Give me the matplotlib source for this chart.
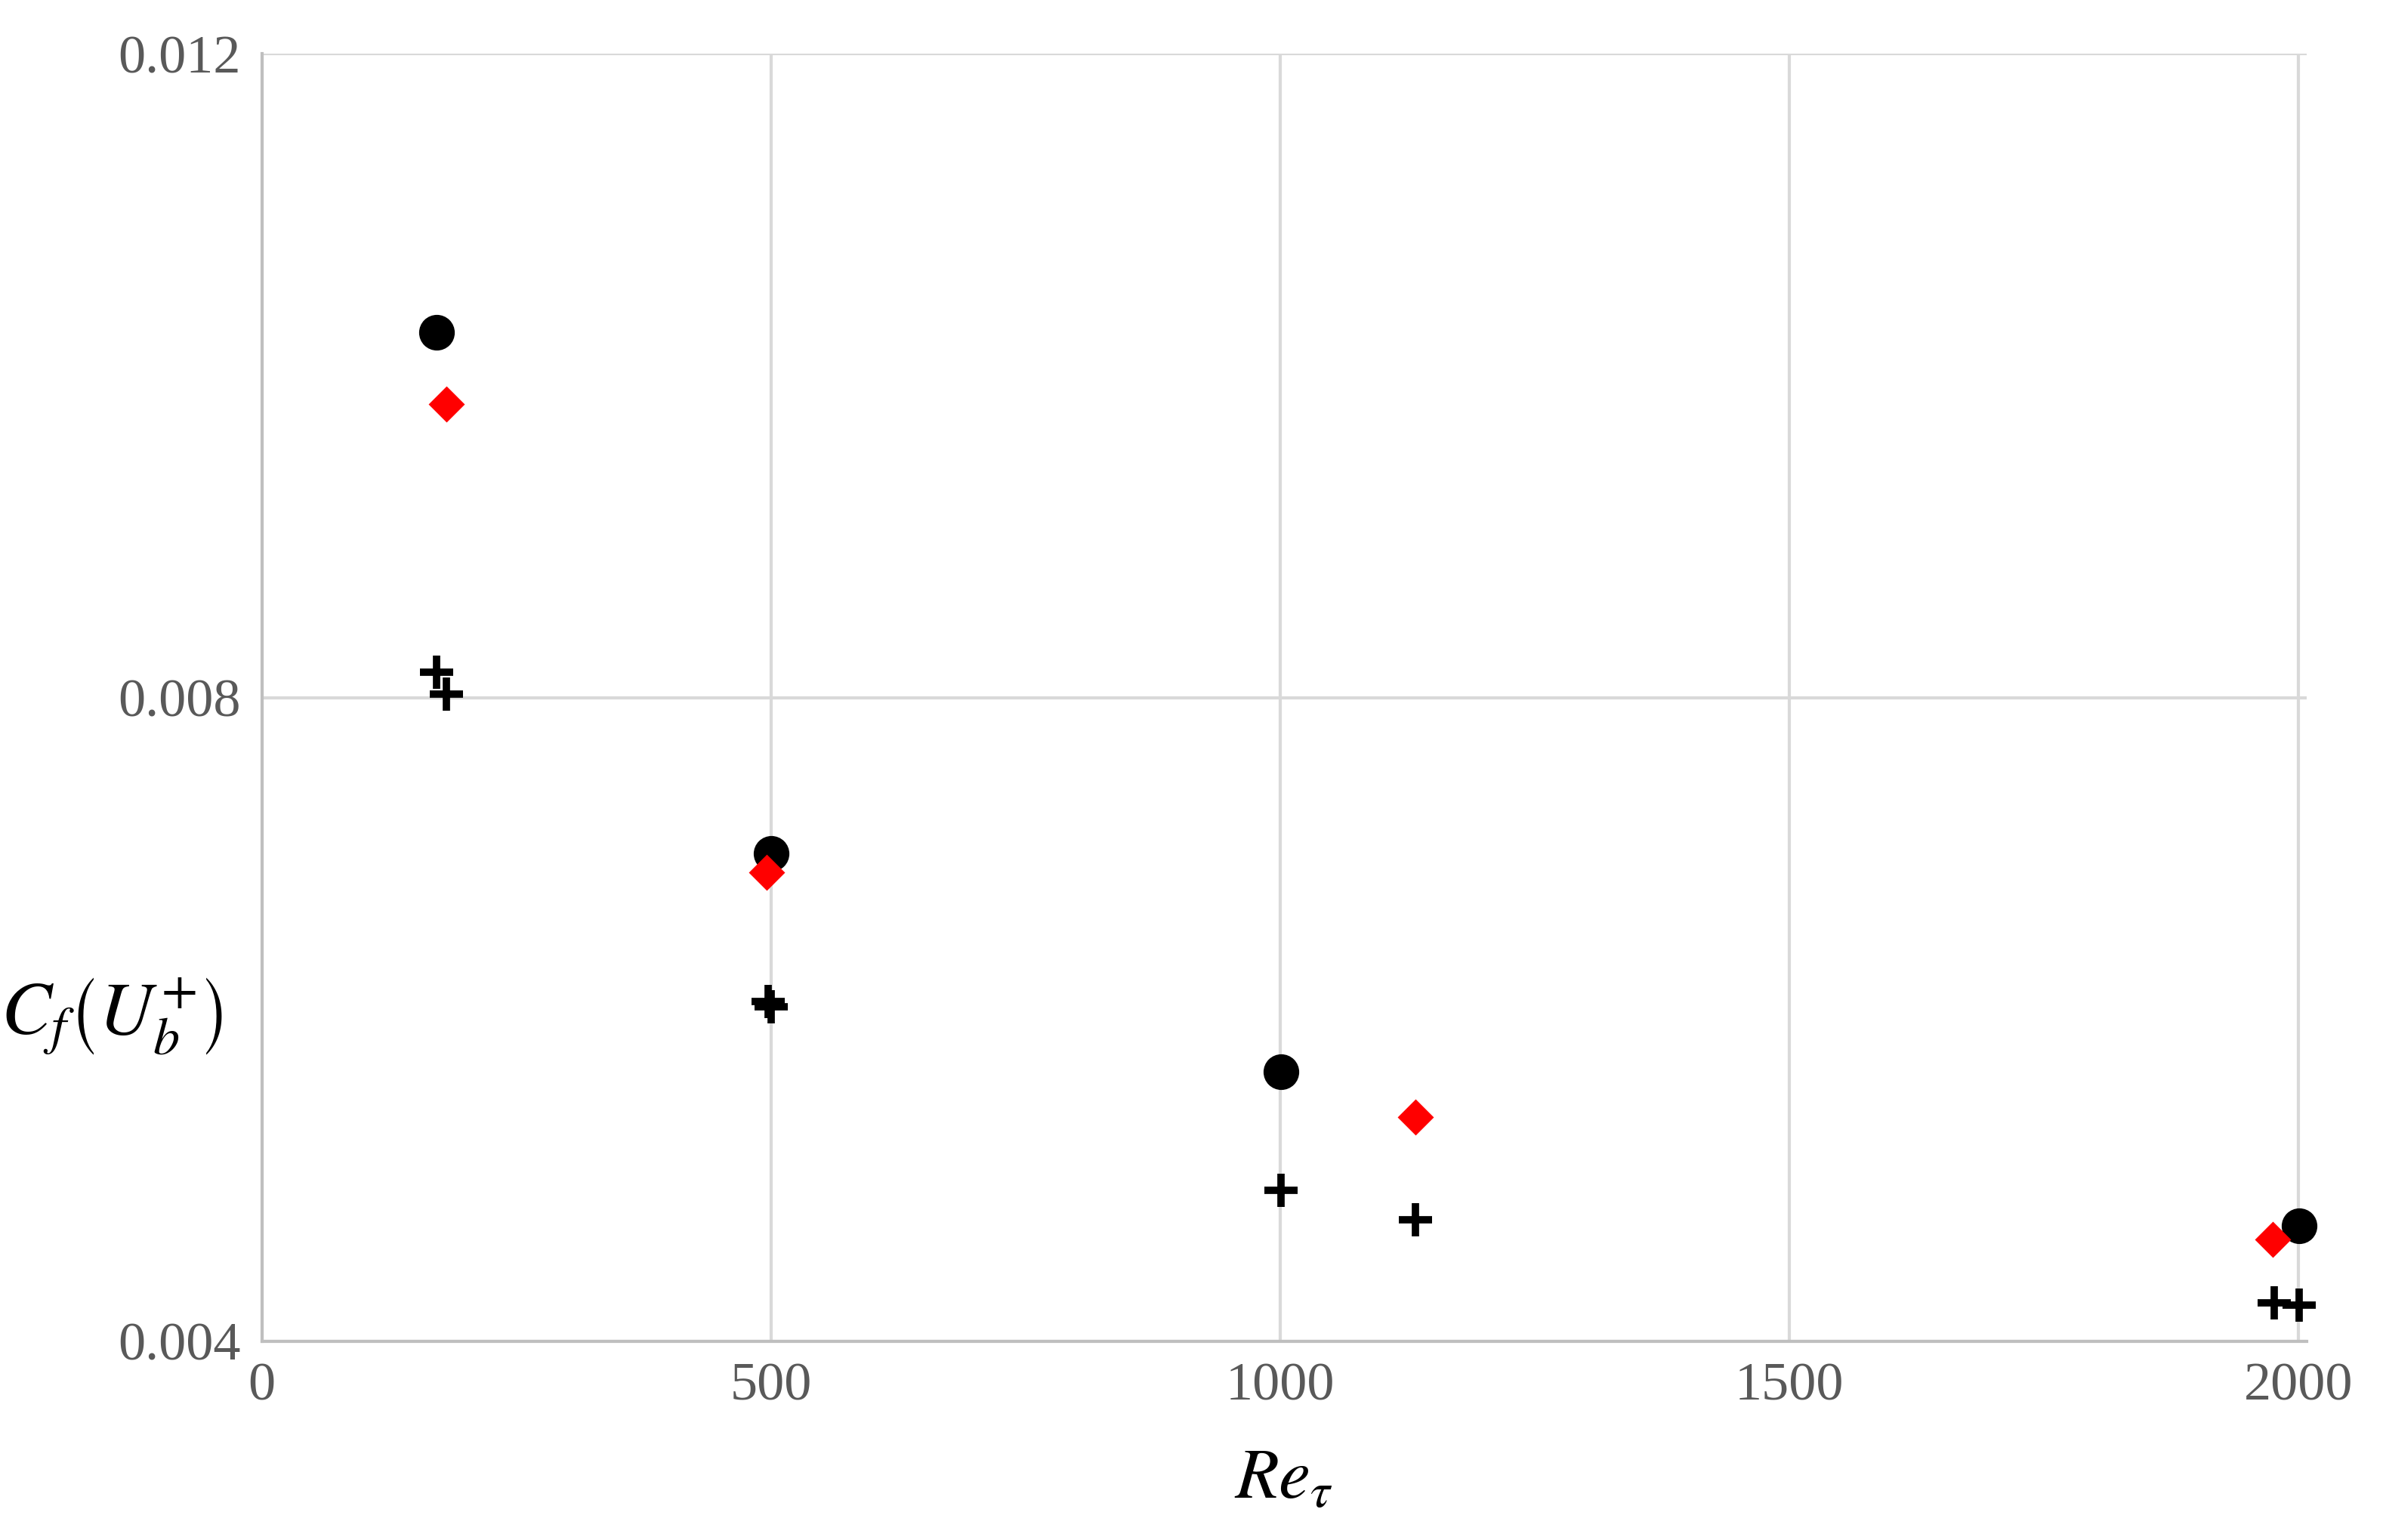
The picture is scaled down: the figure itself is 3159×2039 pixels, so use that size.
import matplotlib
matplotlib.use("Agg")
import matplotlib.pyplot as plt

plt.rcParams['mathtext.fontset'] = 'stix'

circ_x = [172, 500, 1001, 2001]
circ_y = [0.01027, 0.00703, 0.005676, 0.00472]
dia_x = [181, 496, 1133, 1975]
dia_y = [0.009822, 0.006916, 0.005392, 0.004634]
plus_x = [172, 181, 497, 500, 1001, 1133, 1976, 2001]
plus_y = [0.008156, 0.008024, 0.006111, 0.006080, 0.004937, 0.004757, 0.004237, 0.004227]

fig = plt.figure(figsize=(15.795, 10.195), dpi=200)
ax = fig.add_axes([0.1097, 0.129, 0.857, 0.836])
ax.set_xlim(0, 2008)
ax.set_ylim(0.004, 0.012)
ax.set_xticks([0, 500, 1000, 1500, 2000])
ax.set_yticks([0.004, 0.008, 0.012])
ax.set_yticklabels(['0.004', '0.008', '0.012'])
ax.grid(True, color='#d9d9d9', lw=1.5)
ax.set_axisbelow(True)
for s in ['top', 'right']:
    ax.spines[s].set_visible(False)
for s in ['left', 'bottom']:
    ax.spines[s].set_color('#bfbfbf')
    ax.spines[s].set_linewidth(1.5)
ax.tick_params(length=0, labelsize=26, labelcolor='#595959', pad=10)
for l in ax.get_xticklabels() + ax.get_yticklabels():
    l.set_family('Liberation Serif')

ax.plot(plus_x, plus_y, '+', color='black', ms=16, mew=3.5, ls='none', zorder=3, clip_on=False)
ax.plot(circ_x, circ_y, 'o', color='black', ms=16, ls='none', zorder=4, clip_on=False)
ax.plot(dia_x, dia_y, 'D', color='#ff0000', ms=11, ls='none', zorder=5, clip_on=False)

fig.text(0.047, 0.34, r'$\mathbf{\mathit{C_f}}\left(\mathbf{\mathit{U_b^{+}}}\right)$', fontsize=36, ha='center', va='center')
fig.text(0.538, 0.04, r'$\mathbf{\mathit{Re_\tau}}$', fontsize=34, ha='center', va='center')
fig.savefig('out.png', dpi=200)
